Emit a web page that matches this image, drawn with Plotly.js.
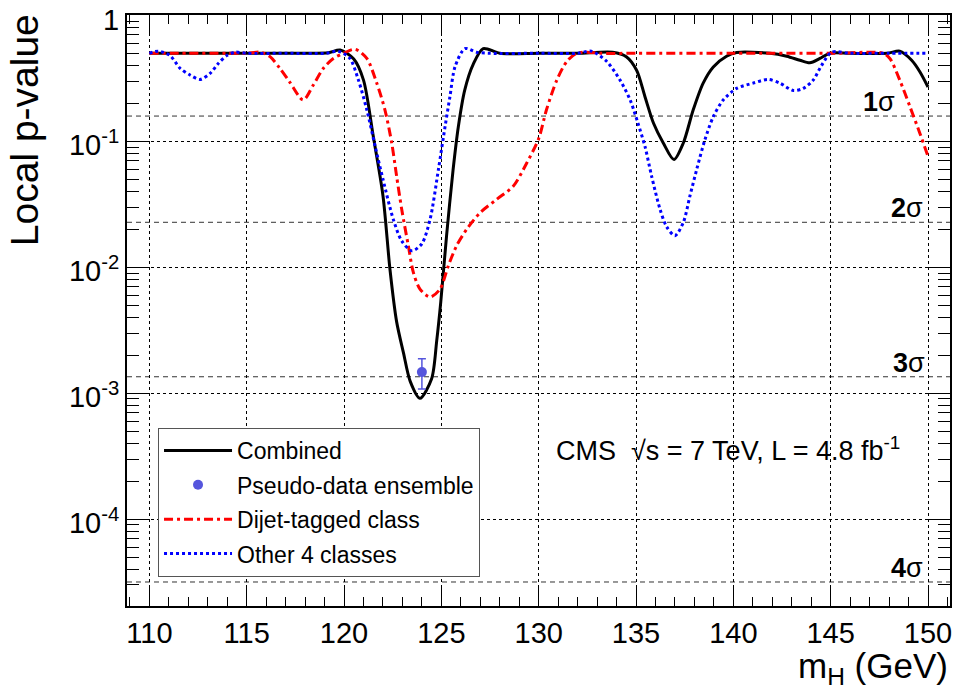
<!DOCTYPE html>
<html>
<head>
<meta charset="utf-8">
<script src="https://cdn.plot.ly/plotly-3.0.1.min.js"></script>
<style>html,body{margin:0;padding:0;background:#fff;}</style>
</head>
<body>
<div id="chart" style="width:960px;height:693px;"></div>
<script>
// ---- data ----
const combinedMass = [110, 112, 114, 116, 118, 119.2, 119.8, 120.5, 121.0, 121.5, 122.0, 122.36, 122.7, 123.05, 123.4, 123.9, 124.5, 124.76, 124.97, 125.27, 125.6, 125.87, 126.2, 126.64, 127.15, 128.0, 130, 132, 133.8, 134.5, 135.03, 135.46, 135.9, 136.4, 136.95, 137.43, 137.94, 138.45, 138.97, 139.65, 140.17, 141.88, 142.74, 143.42, 143.93, 144.45, 144.96, 146, 147.9, 148.55, 149.16, 149.58, 150.0];
const combinedP = [0.5, 0.5, 0.5, 0.5, 0.5, 0.505, 0.53, 0.45, 0.306, 0.11, 0.037, 0.0096, 0.0037, 0.0021, 0.00124, 0.00091, 0.0013, 0.0026, 0.0053, 0.018, 0.059, 0.13, 0.255, 0.41, 0.545, 0.5, 0.5, 0.5, 0.51, 0.47, 0.367, 0.226, 0.139, 0.097, 0.0716, 0.097, 0.178, 0.29, 0.39, 0.474, 0.507, 0.5, 0.474, 0.44, 0.42, 0.455, 0.5, 0.5, 0.5, 0.52, 0.44, 0.357, 0.27];

const dijetMass = [110, 112, 114, 115, 115.7, 116.2, 116.7, 117.2, 117.9, 118.42, 118.94, 119.45, 119.97, 120.57, 121.17, 121.68, 122.1, 122.45, 122.7, 122.96, 123.3, 123.56, 123.9, 124.42, 124.93, 125.36, 125.79, 126.3, 126.98, 127.84, 128.69, 129.38, 130.0, 130.4, 130.93, 131.44, 131.95, 132.47, 133.2, 135, 140, 145, 147.7, 148.04, 148.55, 149.07, 149.58, 150.0];
const dijetP = [0.5, 0.5, 0.5, 0.5, 0.51, 0.47, 0.38, 0.297, 0.213, 0.28, 0.38, 0.455, 0.5, 0.538, 0.455, 0.29, 0.178, 0.097, 0.053, 0.029, 0.0149, 0.0091, 0.0067, 0.0058, 0.0067, 0.0103, 0.0149, 0.020, 0.027, 0.0346, 0.044, 0.067, 0.105, 0.178, 0.306, 0.43, 0.5, 0.51, 0.5, 0.5, 0.5, 0.5, 0.5, 0.455, 0.306, 0.189, 0.116, 0.076];

const otherMass = [110, 110.46, 111.06, 111.58, 112.09, 112.6, 113.12, 113.54, 113.98, 114.4, 115, 117, 119.1, 119.7, 120.3, 120.74, 121.17, 121.6, 122.0, 122.53, 122.96, 123.48, 123.99, 124.42, 124.85, 125.19, 125.44, 125.7, 126.21, 126.8, 127.5, 130, 132, 132.7, 133.5, 134.18, 134.7, 135.1, 135.46, 135.8, 136.23, 136.57, 137.0, 137.43, 137.77, 138.12, 138.54, 138.97, 139.48, 140.17, 141.02, 141.79, 142.39, 143.08, 143.59, 144.1, 144.53, 145.05, 146, 148, 150];
const otherP = [0.5, 0.52, 0.48, 0.38, 0.336, 0.31, 0.346, 0.415, 0.48, 0.51, 0.5, 0.5, 0.5, 0.52, 0.455, 0.306, 0.178, 0.091, 0.050, 0.024, 0.0162, 0.0135, 0.0153, 0.024, 0.060, 0.131, 0.226, 0.39, 0.545, 0.51, 0.5, 0.5, 0.5, 0.52, 0.43, 0.306, 0.213, 0.139, 0.091, 0.053, 0.029, 0.021, 0.0178, 0.0227, 0.0368, 0.06, 0.103, 0.157, 0.213, 0.263, 0.29, 0.31, 0.29, 0.253, 0.263, 0.306, 0.40, 0.51, 0.5, 0.5, 0.5];

const pseudoMass = [124];
const pseudoP = [0.00147];
const pseudoErrUp = [0.00041];
const pseudoErrDown = [0.00039];

const sigmaLabels = ['1σ', '2σ', '3σ', '4σ'];
const sigmaP = [0.1587, 0.02275, 0.00135, 3.167e-5];

const seriesNames = ['Combined', 'Pseudo-data ensemble', 'Dijet-tagged class', 'Other 4 classes'];
const xTickVals = [110, 115, 120, 125, 130, 135, 140, 145, 150];
const yTickVals = [1e-4, 1e-3, 1e-2, 1e-1, 1];
const yTickText = ['10<sup>-4</sup>', '10<sup>-3</sup>', '10<sup>-2</sup>', '10<sup>-1</sup>', '1'];

// ---- figure ----
const FONT = 'Liberation Sans, Arial, Helvetica, sans-serif';

const traces = [
  {x: combinedMass, y: combinedP, name: seriesNames[0], type: 'scatter', mode: 'lines',
   line: {color: '#000000', width: 3, shape: 'spline', smoothing: 0.8}, legendgroup: 'a'},
  {x: pseudoMass, y: pseudoP, name: seriesNames[1], type: 'scatter', mode: 'markers',
   marker: {color: '#5555dd', size: 10},
   error_y: {type: 'data', symmetric: false, array: pseudoErrUp, arrayminus: pseudoErrDown,
             color: '#5555dd', thickness: 1.5, width: 4}, legendgroup: 'b'},
  {x: dijetMass, y: dijetP, name: seriesNames[2], type: 'scatter', mode: 'lines',
   line: {color: '#ff0000', width: 3, dash: '9px,4px,3px,4px', shape: 'spline', smoothing: 0.8}, legendgroup: 'c'},
  {x: otherMass, y: otherP, name: seriesNames[3], type: 'scatter', mode: 'lines',
   line: {color: '#0000ff', width: 3, dash: '3px,3px', shape: 'spline', smoothing: 0.8}, legendgroup: 'd'}
];

const shapes = sigmaP.map(p => ({
  type: 'line', xref: 'paper', x0: 0, x1: 1, yref: 'y', y0: p, y1: p,
  line: {color: '#333333', width: 1, dash: '5px,4px'}, layer: 'below'
}));

const sigmaX = [0.935, 0.97, 0.972, 0.97];
const annotations = sigmaLabels.map((s, i) => ({
  text: '<b>' + s.charAt(0) + '</b>' + s.slice(1),
  xref: 'paper', x: sigmaX[i], xanchor: 'right',
  yref: 'y', y: Math.log10(sigmaP[i]), yanchor: 'bottom', yshift: -3,
  showarrow: false, font: {family: FONT, size: 27, color: '#000'}
}));

annotations.push({
  text: 'CMS  √s = 7 TeV, L = 4.8 fb<sup>-1</sup>',
  xref: 'paper', x: 0.519, xanchor: 'left',
  yref: 'paper', y: 0.266, yanchor: 'middle',
  showarrow: false, font: {family: FONT, size: 27, color: '#000'}
});
annotations.push({
  text: 'Local p-value', textangle: -90,
  xref: 'paper', x: -0.125, xanchor: 'center',
  yref: 'paper', y: 1.005, yanchor: 'top',
  showarrow: false, font: {family: FONT, size: 39, color: '#000'}
});
annotations.push({
  text: 'm<sub>H</sub> (GeV)',
  xref: 'paper', x: 1.0, xanchor: 'right',
  yref: 'paper', y: -0.146, yanchor: 'bottom',
  showarrow: false, font: {family: FONT, size: 35, color: '#000'}
});

const layout = {
  width: 960, height: 693,
  margin: {l: 127, r: 10, t: 15, b: 87, pad: 0},
  paper_bgcolor: '#ffffff', plot_bgcolor: '#ffffff',
  font: {family: FONT, color: '#000'},
  showlegend: true,
  legend: {
    x: 0.0377, xanchor: 'left', y: 0.3013, yanchor: 'top',
    bgcolor: '#ffffff', bordercolor: '#555555', borderwidth: 1,
    font: {family: FONT, size: 23, color: '#000'},
    traceorder: 'grouped', tracegroupgap: 1.5, itemwidth: 68
  },
  xaxis: {
    range: [108.85, 151.13], tickvals: xTickVals, ticktext: xTickVals.map(String),
    ticks: 'inside', ticklen: 18, tickwidth: 1, tickcolor: '#000',
    showline: true, linewidth: 2, linecolor: '#000', mirror: 'allticks',
    showgrid: true, gridcolor: '#000', gridwidth: 1, griddash: 'dot',
    zeroline: false,
    minor: {ticks: 'inside', ticklen: 9, tickwidth: 1, tickcolor: '#000', dtick: 1, tick0: 110, showgrid: false},
    tickfont: {family: FONT, size: 29, color: '#000'}
  },
  yaxis: {
    type: 'log', range: [-4.69, 0.003], tickvals: yTickVals, ticktext: yTickText,
    ticklabelshift: 4, ticklabeloverflow: 'allow',
    ticks: 'inside', ticklen: 22, tickwidth: 1, tickcolor: '#000',
    showline: true, linewidth: 2, linecolor: '#000', mirror: 'allticks',
    showgrid: true, gridcolor: '#000', gridwidth: 1, griddash: 'dot',
    zeroline: false,
    minor: {ticks: 'inside', ticklen: 12, tickwidth: 1, tickcolor: '#000', dtick: 'D1', showgrid: false},
    tickfont: {family: FONT, size: 29, color: '#000'}
  },
  shapes: shapes,
  annotations: annotations
};

Plotly.newPlot('chart', traces, layout, {displayModeBar: false, staticPlot: true});
</script>
</body>
</html>
